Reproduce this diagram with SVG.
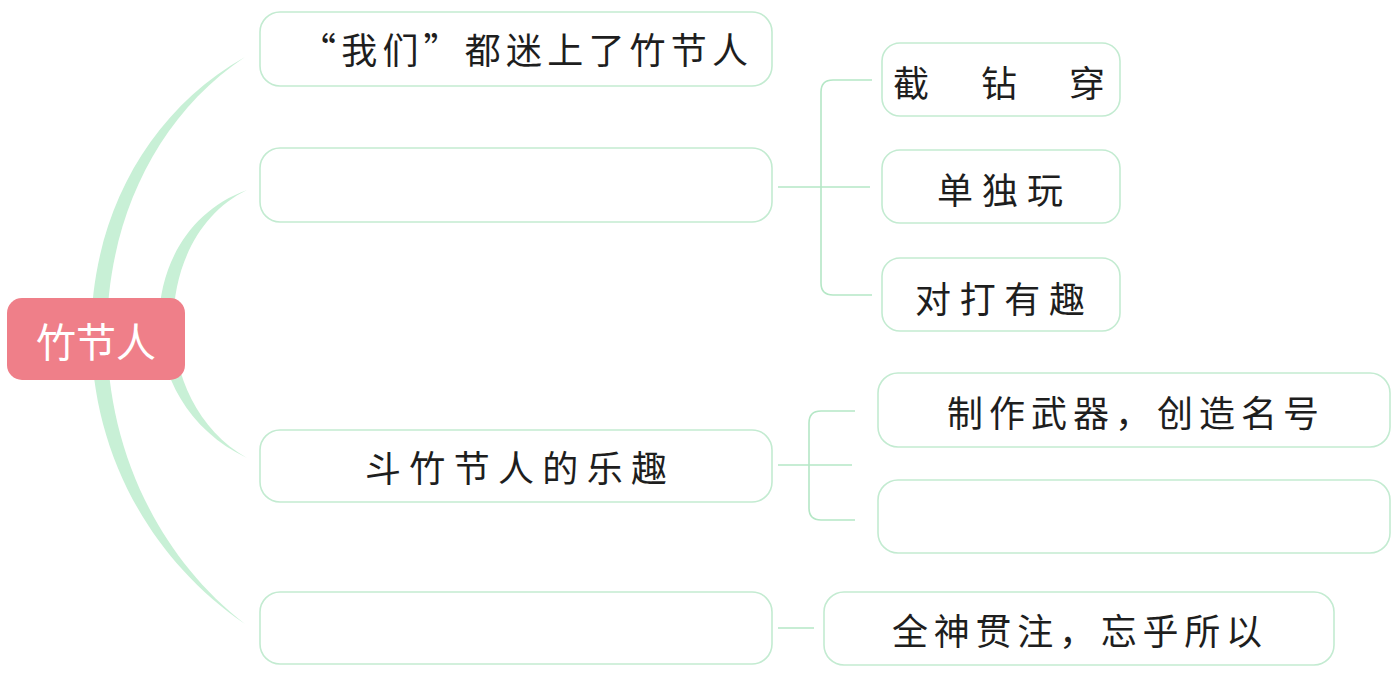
<svg xmlns="http://www.w3.org/2000/svg" width="1398" height="678" viewBox="0 0 1398 678">
<style>
.box{fill:#ffffff;stroke:#c3ebd1;stroke-width:1.6}
.t{font-family:"Noto Sans CJK SC","Noto Sans",sans-serif;font-size:36px;fill:#1e1e1e;dominant-baseline:central;text-anchor:middle}
.conn{fill:none;stroke:#b5e7c6;stroke-width:1.6}
.arc{fill:#c8f0d6;stroke:none}
</style>
<rect width="1398" height="678" fill="#ffffff"/>
<g id="connectors">
<path class="arc" d="M245,57 C45,170 35,480 245,624 C58,478 64,178 245,57 Z"/>
<path class="arc" d="M247,190 C135,230 125,400 247,458 C146,400 152,236 247,190 Z"/>
<path class="conn" d="M778,187 H870 M872,80 H833 Q821,80 821,92 V283 Q821,295 833,295 H872"/>
<path class="conn" d="M778,465 H852 M855,411 H821 Q809,411 809,423 V508 Q809,520 821,520 H855"/>
<path class="conn" d="M778,628 H814"/>
</g>
<g id="root">
<rect x="7" y="298" width="178" height="82" rx="15" fill="#ef7f89"/>
<text x="96" y="340" font-family="'Noto Sans CJK SC',sans-serif" font-size="40" fill="#ffffff" text-anchor="middle" dominant-baseline="central">竹节人</text>
</g>
<g id="n1">
<rect class="box" x="260" y="12" width="512" height="74" rx="20"/>
<text class="t" x="524" y="48" textLength="448" lengthAdjust="spacing">“我们”都迷上了竹节人</text>
</g>
<g id="n2">
<rect class="box" x="260" y="148" width="512" height="74" rx="20"/>
</g>
<g id="n3">
<rect class="box" x="260" y="430" width="512" height="72" rx="20"/>
<text class="t" x="516" y="466" textLength="302" lengthAdjust="spacing">斗竹节人的乐趣</text>
</g>
<g id="n4">
<rect class="box" x="260" y="592" width="512" height="72" rx="20"/>
</g>
<g id="n21">
<rect class="box" x="882" y="43" width="238" height="73" rx="18"/>
<text class="t" x="999" y="81" textLength="212" lengthAdjust="spacing">截钻穿</text>
</g>
<g id="n22">
<rect class="box" x="882" y="150" width="238" height="73" rx="18"/>
<text class="t" x="1000" y="188" textLength="126" lengthAdjust="spacing">单独玩</text>
</g>
<g id="n23">
<rect class="box" x="882" y="258" width="238" height="73" rx="18"/>
<text class="t" x="1000" y="297" textLength="170" lengthAdjust="spacing">对打有趣</text>
</g>
<g id="n31">
<rect class="box" x="878" y="373" width="512" height="74" rx="20"/>
<text class="t" x="1133" y="411" textLength="372" lengthAdjust="spacing">制作武器，创造名号</text>
</g>
<g id="n32">
<rect class="box" x="878" y="480" width="512" height="73" rx="20"/>
</g>
<g id="n41">
<rect class="box" x="824" y="592" width="510" height="73" rx="20"/>
<text class="t" x="1077" y="629" textLength="370" lengthAdjust="spacing">全神贯注，忘乎所以</text>
</g>
</svg>
